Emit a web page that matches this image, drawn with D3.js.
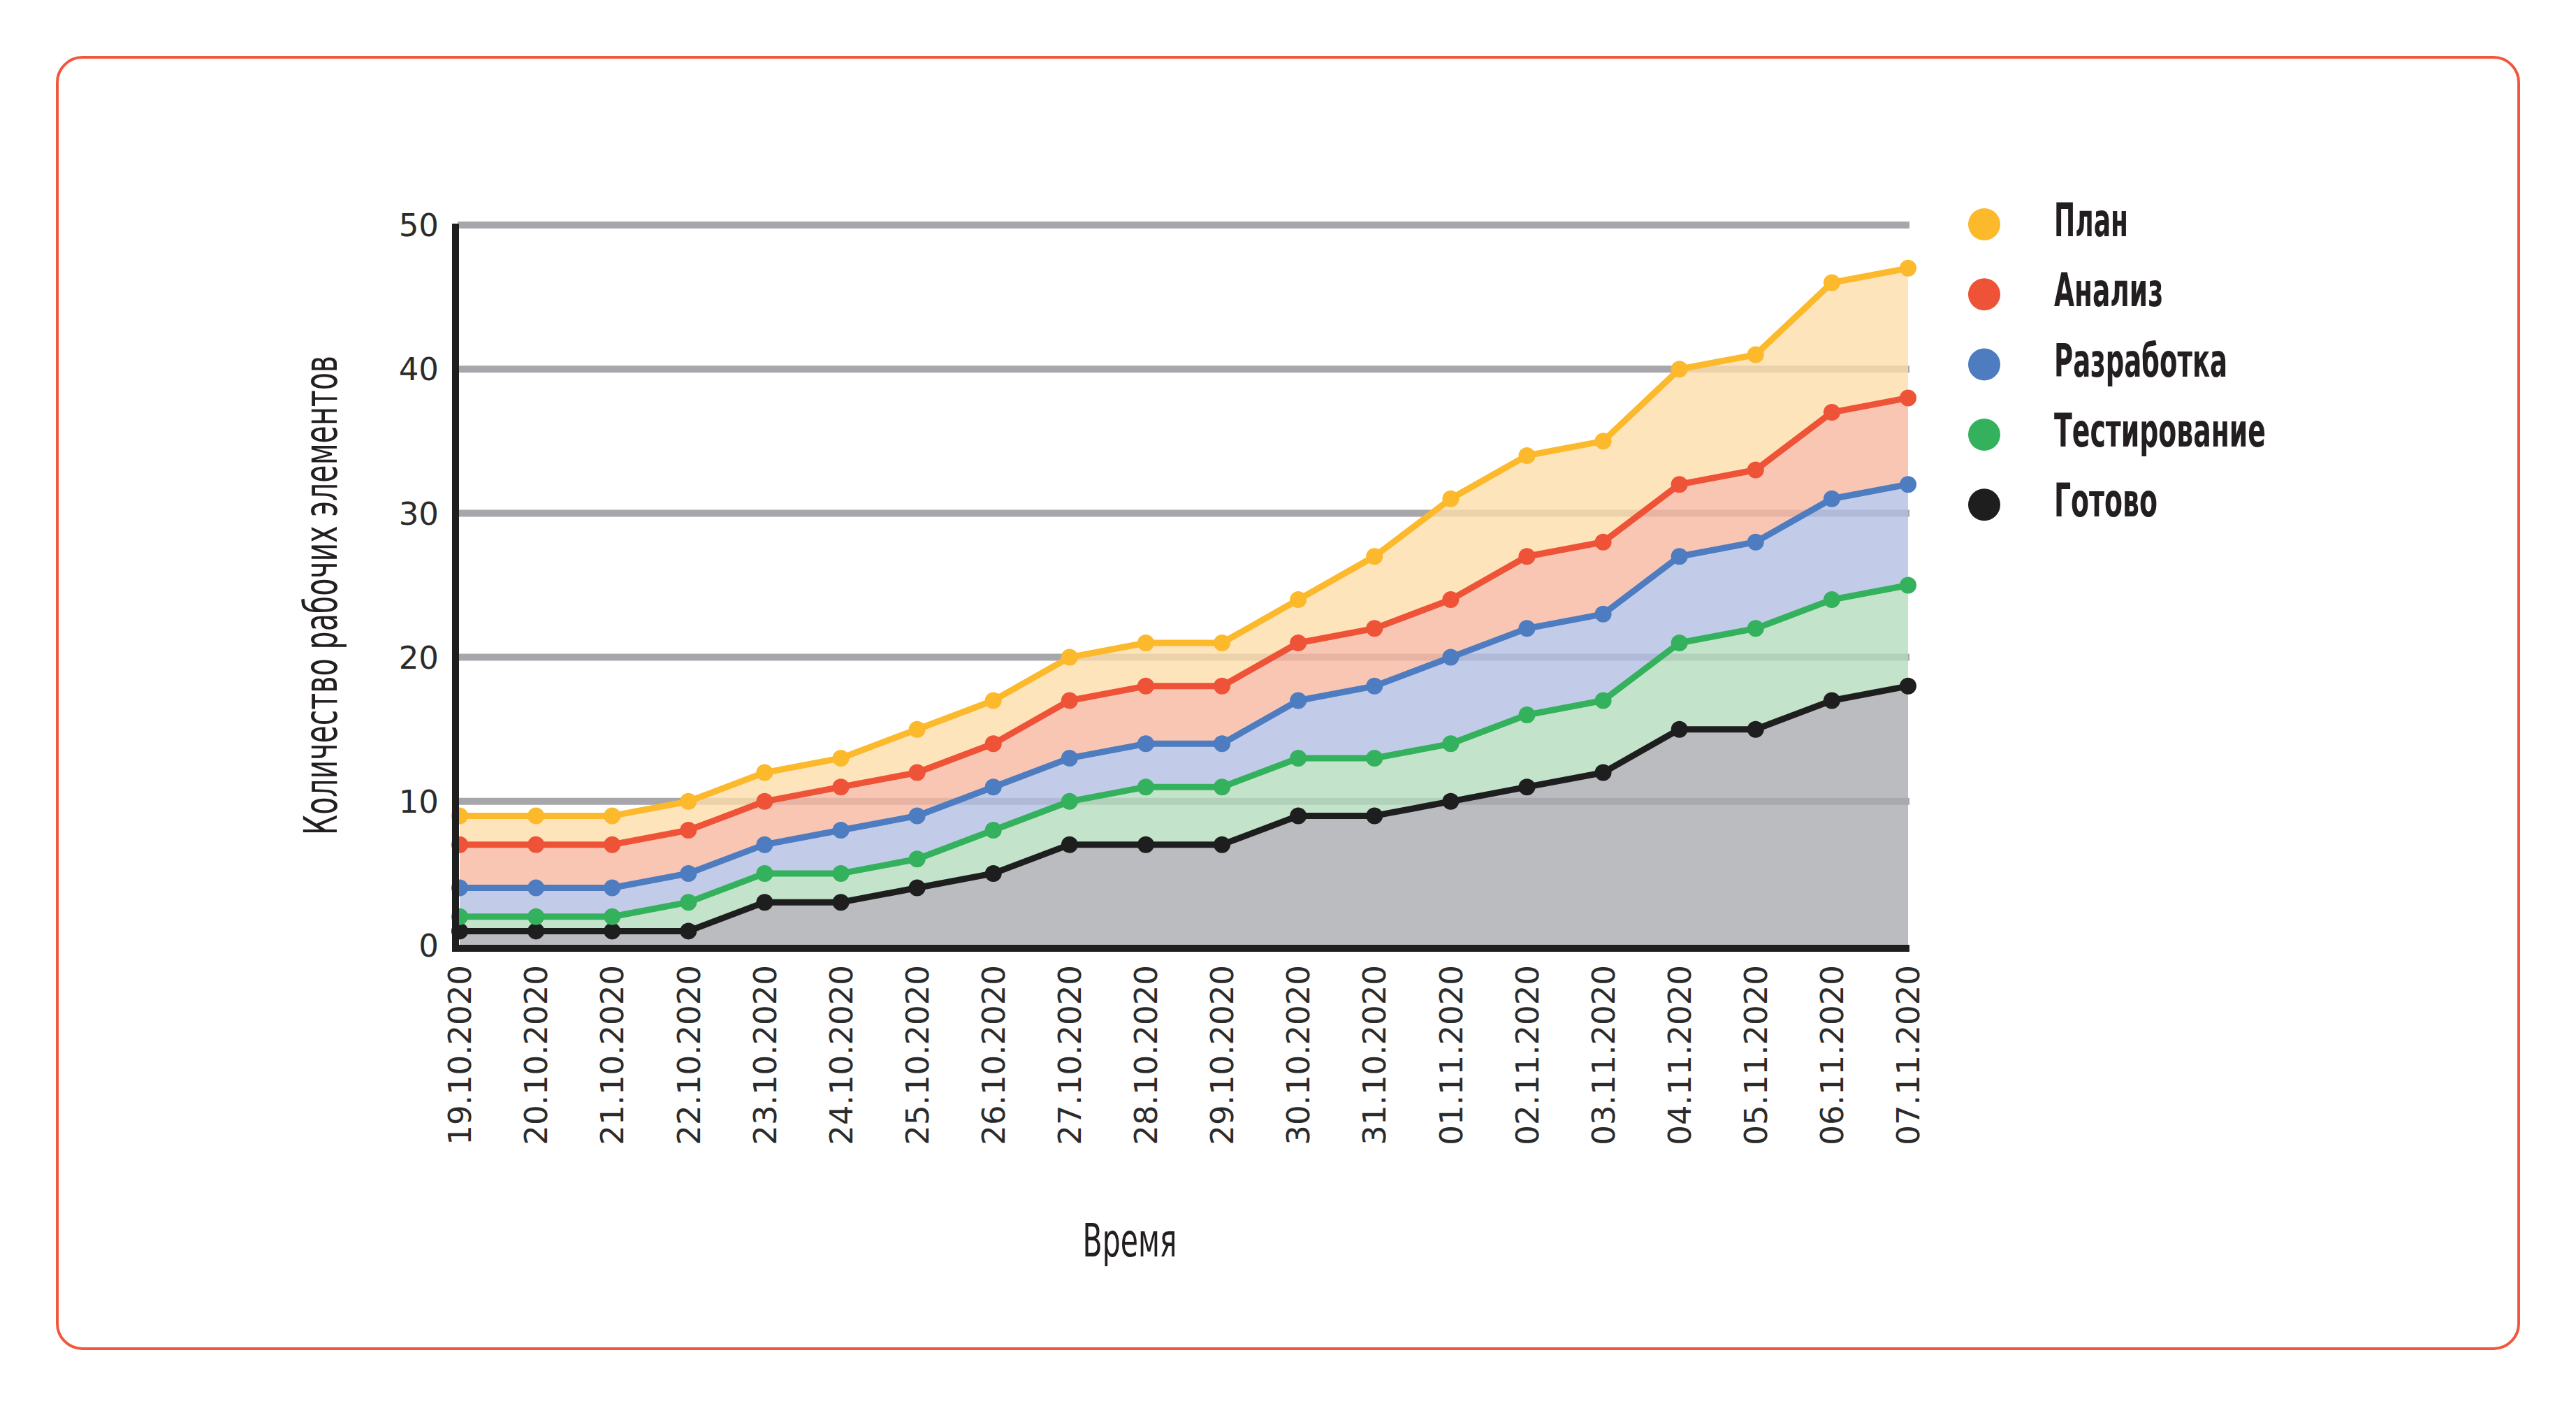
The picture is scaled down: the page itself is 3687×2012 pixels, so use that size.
<!DOCTYPE html>
<meta charset="utf-8">

<head>
  <script src="https://d3js.org/d3.v7.min.js"></script>

  <style>
    body {
      margin: 0;
      background: #fff;
    }
    .tick-label {
      font-family: 'DejaVu Sans', Verdana, sans-serif;
      font-size: 45px;
      fill: #2b2b2b;
    }
    .narrow {
      font-family: 'Liberation Sans Narrow', 'DejaVu Sans Condensed', 'Arial Narrow', sans-serif;
      font-size: 66px;
      fill: #231f20;
    }
  </style>
</head>

<!-- Create a div where the graph will take place -->
<div id="my_dataviz"></div>

<script>
  // data (cumulative totals per stage)
  var dates = ["19.10.2020", "20.10.2020", "21.10.2020", "22.10.2020", "23.10.2020",
    "24.10.2020", "25.10.2020", "26.10.2020", "27.10.2020", "28.10.2020",
    "29.10.2020", "30.10.2020", "31.10.2020", "01.11.2020", "02.11.2020",
    "03.11.2020", "04.11.2020", "05.11.2020", "06.11.2020", "07.11.2020"];

  var plan     = [9, 9, 9, 10, 12, 13, 15, 17, 20, 21, 21, 24, 27, 31, 34, 35, 40, 41, 46, 47];
  var analysis = [7, 7, 7, 8, 10, 11, 12, 14, 17, 18, 18, 21, 22, 24, 27, 28, 32, 33, 37, 38];
  var develop  = [4, 4, 4, 5, 7, 8, 9, 11, 13, 14, 14, 17, 18, 20, 22, 23, 27, 28, 31, 32];
  var testing  = [2, 2, 2, 3, 5, 5, 6, 8, 10, 11, 11, 13, 13, 14, 16, 17, 21, 22, 24, 25];
  var done     = [1, 1, 1, 1, 3, 3, 4, 5, 7, 7, 7, 9, 9, 10, 11, 12, 15, 15, 17, 18];

  var seriesNames = ["План", "Анализ", "Разработка", "Тестирование", "Готово"];
  var yTicks = [0, 10, 20, 30, 40, 50];

  var series = [plan, analysis, develop, testing, done];
  var lineColors = ["#fbb92b", "#ee5237", "#4d7cc1", "#34b15c", "#1e1e1e"];
  var fillColors = ["#fdddaa", "#f8b8a1", "#b3bfe4", "#b4dcbe", "#aaabb0"];

  var W = 3687, H = 2012;

  var svg = d3.select("#my_dataviz")
    .append("svg")
    .attr("width", W)
    .attr("height", H);

  // orange rounded frame
  svg.append("rect")
    .attr("x", 82).attr("y", 82)
    .attr("width", 3523).attr("height", 1848)
    .attr("rx", 36).attr("ry", 36)
    .attr("fill", "none")
    .attr("stroke", "#f1573b")
    .attr("stroke-width", 4);

  var x = d3.scalePoint()
    .domain(dates)
    .range([658, 2731]);

  var y = d3.scaleLinear()
    .domain([0, 50])
    .range([1353, 322]);

  // grid lines
  svg.append("g")
    .selectAll("line")
    .data(yTicks.filter(function (d) { return d > 0; }))
    .enter().append("line")
    .attr("x1", 655).attr("x2", 2733)
    .attr("y1", function (d) { return y(d); })
    .attr("y2", function (d) { return y(d); })
    .attr("stroke", "#a7a7ab")
    .attr("stroke-width", 10);

  // bands between consecutive stages
  series.forEach(function (s, i) {
    var lower = series[i + 1];
    var area = d3.area()
      .x(function (d, j) { return x(dates[j]); })
      .y0(function (d, j) { return y(lower ? lower[j] : 0); })
      .y1(function (d) { return y(d); });
    svg.append("path")
      .datum(s)
      .attr("fill", fillColors[i])
      .attr("fill-opacity", 0.8)
      .attr("d", area);
  });

  // lines + dots, bottom stage first
  series.slice().reverse().forEach(function (s, k) {
    var i = series.length - 1 - k;
    svg.append("path")
      .datum(s)
      .attr("fill", "none")
      .attr("stroke", lineColors[i])
      .attr("stroke-width", 9)
      .attr("stroke-linejoin", "round")
      .attr("d", d3.line()
        .x(function (d, j) { return x(dates[j]); })
        .y(function (d) { return y(d); }));
    svg.append("g")
      .selectAll("circle")
      .data(s)
      .enter().append("circle")
      .attr("cx", function (d, j) { return x(dates[j]); })
      .attr("cy", function (d) { return y(d); })
      .attr("r", 12)
      .attr("fill", lineColors[i]);
  });

  // axes
  svg.append("line")
    .attr("x1", 652).attr("x2", 652)
    .attr("y1", 320).attr("y2", y(0) + 9)
    .attr("stroke", "#1e1e1e")
    .attr("stroke-width", 10);
  svg.append("line")
    .attr("x1", 652).attr("x2", 2733)
    .attr("y1", y(0) + 4).attr("y2", y(0) + 4)
    .attr("stroke", "#1e1e1e")
    .attr("stroke-width", 10);

  // y tick labels
  svg.append("g")
    .selectAll("text")
    .data(yTicks)
    .enter().append("text")
    .attr("class", "tick-label")
    .attr("x", 628)
    .attr("y", function (d) { return y(d); })
    .attr("dy", "0.36em")
    .attr("text-anchor", "end")
    .text(function (d) { return d; });

  // x tick labels, rotated
  svg.append("g")
    .selectAll("text")
    .data(dates)
    .enter().append("text")
    .attr("class", "tick-label")
    .attr("transform", function (d) { return "translate(" + x(d) + ",1381) rotate(-90)"; })
    .attr("dy", "0.36em")
    .attr("text-anchor", "end")
    .text(function (d) { return d; });

  // squeeze condensed text to a target width
  function squeeze(sel, w) {
    sel.attr("textLength", w).attr("lengthAdjust", "spacingAndGlyphs");
  }

  // axis titles
  svg.append("text")
    .attr("class", "narrow")
    .attr("x", 1617).attr("y", 1798)
    .attr("text-anchor", "middle")
    .text("Время")
    .call(squeeze, 135);

  svg.append("text")
    .attr("class", "narrow")
    .attr("transform", "translate(482,852) rotate(-90)")
    .attr("text-anchor", "middle")
    .text("Количество рабочих элементов")
    .call(squeeze, 686);

  // legend
  var legendW = [106, 156, 248, 303, 148];
  var legend = svg.append("g")
    .selectAll("g")
    .data(seriesNames)
    .enter().append("g")
    .attr("transform", function (d, i) { return "translate(2840," + (321 + i * 100.3) + ")"; });

  legend.append("circle")
    .attr("r", 23)
    .attr("fill", function (d, i) { return lineColors[i]; });

  legend.append("text")
    .attr("class", "narrow")
    .attr("x", 100)
    .attr("y", 17)
    .style("font-weight", "bold")
    .text(function (d) { return d; })
    .each(function (d, i) { squeeze(d3.select(this), legendW[i]); });
</script>
